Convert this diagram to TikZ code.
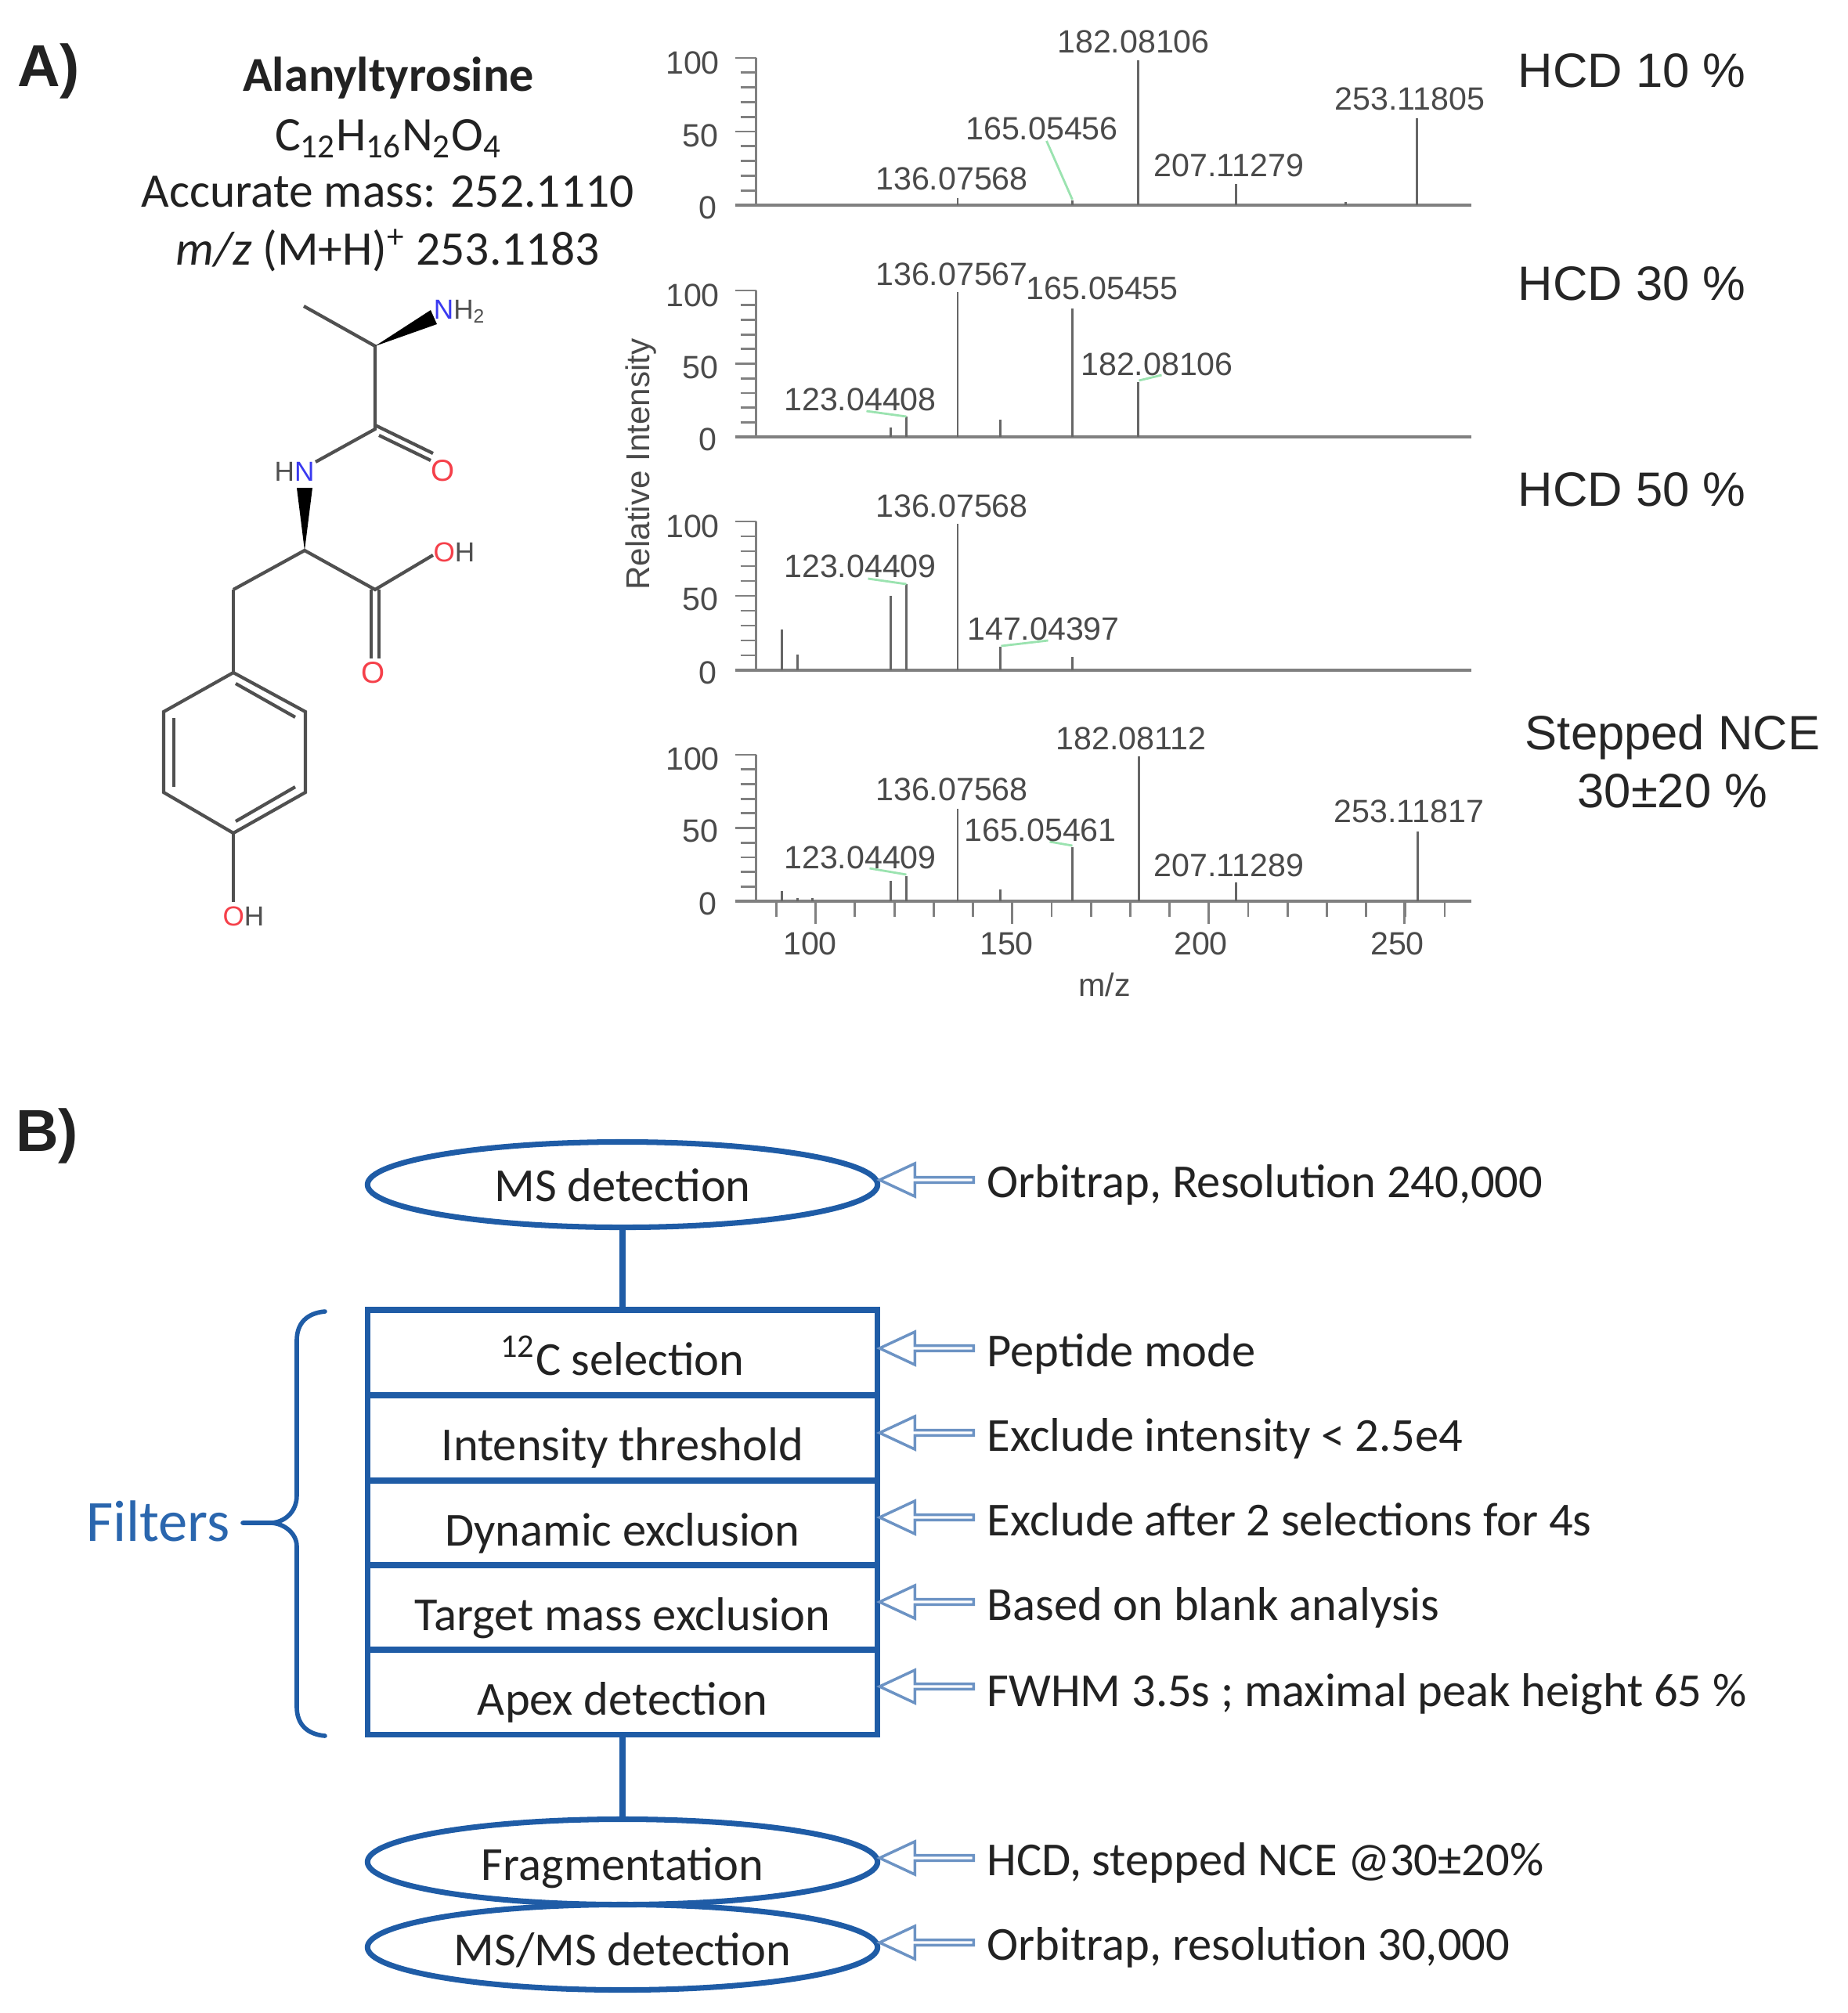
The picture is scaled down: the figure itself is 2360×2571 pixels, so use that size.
\documentclass[tikz,border=0pt]{standalone}
\usepackage{fontspec}
\setmainfont{Carlito}
\newfontfamily\arialf{Liberation Sans}
\usetikzlibrary{shapes.geometric,shapes.arrows}
\definecolor{bluel}{HTML}{1F5CA6}
\definecolor{bluea}{HTML}{6C93C4}
\definecolor{filt}{HTML}{2A66AE}
\definecolor{specg}{HTML}{4A4A4A}
\definecolor{peakg}{HTML}{666666}
\definecolor{axg}{HTML}{808080}
\definecolor{greenl}{HTML}{9BE3B0}
\definecolor{bond}{HTML}{505050}
\definecolor{atomN}{HTML}{3A3AF0}
\definecolor{atomO}{HTML}{F5404A}
\definecolor{txt}{HTML}{222222}
\tikzset{
  speclab/.style={font=\arialf\fontsize{11.7}{13}\selectfont, text=specg, inner sep=0pt, text height=8pt, text depth=0pt},
  peak/.style={draw=peakg, line width=0.65pt},
  baseax/.style={draw=axg, line width=1.0pt},
  tickl/.style={draw=axg, line width=0.8pt},
  gline/.style={draw=greenl, line width=0.8pt},
  hcdlab/.style={font=\arialf\fontsize{17.5}{21}\selectfont, text=black!85, inner sep=0pt},
  headlab/.style={font=\fontsize{17.5}{21}\selectfont, text=txt, inner sep=0pt},
  panel/.style={font=\arialf\bfseries\fontsize{21.5}{26}\selectfont, text=txt, inner sep=0pt},
  bondl/.style={draw=bond, line width=1.2pt},
  atom/.style={font=\arialf\fontsize{10}{11}\selectfont, text=bond, inner sep=0pt},
  rowbox/.style={draw=bluel, line width=2pt, rectangle, minimum width=6.50cm, minimum height=1.08cm, inner sep=0pt, font=\fontsize{17.2}{20}\selectfont, text=txt},
  oval/.style={draw=bluel, line width=2pt, ellipse, minimum width=6.51cm, minimum height=1.09cm, inner sep=0pt, font=\fontsize{17.2}{20}\selectfont, text=txt},
  linkl/.style={draw=bluel, line width=2pt},
  sidelab/.style={anchor=west, inner sep=0pt, font=\fontsize{17.2}{20}\selectfont, text=txt, text height=12pt, text depth=3pt},
  inarrow/.style={single arrow, shape border rotate=180, draw=bluea, line width=1pt, fill=white,
     minimum width=0.42cm, minimum height=1.20cm, single arrow head extend=0.09cm, single arrow tip angle=50,
     single arrow head indent=0pt, inner sep=0pt, text width=0pt},
}
\newcommand{\rowt}[1]{\raisebox{-.29cm}[0pt][0pt]{#1}}
\newcommand{\ovalt}[1]{\raisebox{-.23cm}[0pt][0pt]{#1}}
% y axis of a spectrum: top, base
\newcommand{\specaxis}[2]{%
  \draw[tickl] (967,#1) -- (967,#2);
  \foreach \k in {0,...,10}{
    \pgfmathsetmacro{\yy}{#2+(#1-#2)*\k/10}
    \ifnum\numexpr\k-\k/5*5\relax=0
      \draw[tickl] (940,\yy) -- (967,\yy);
    \else
      \draw[tickl] (947,\yy) -- (967,\yy);
    \fi
  }
  \draw[baseax] (940,#2) -- (1880,#2);
}
\begin{document}
\begin{tikzpicture}[x=0.01cm,y=-0.01cm]
\useasboundingbox (0,0) rectangle (2360,2571);
\fill[white] (0,0) rectangle (2360,2571);

% Panel labels
\node[panel] (pA) at (62,91) {A)};
\node[panel] (pB) at (60,1451) {B)};

% Header
\node[headlab,font=\bfseries\fontsize{17.7}{21}\selectfont] (name) at (496,100) {Alanyltyrosine};
\node[headlab] (formula) at (496,177) {C\textsubscript{12}H\textsubscript{16}N\textsubscript{2}O\textsubscript{4}};
\node[headlab] (accm) at (495,245) {Accurate mass: 252.1110};
\node[headlab] (mz) at (495,320) {\textit{m/z} (M+H)\textsuperscript{+} 253.1183};

% Molecule
\coordinate (me) at (388,391);
\coordinate (ca) at (479,442);
\coordinate (co) at (479,548);
\coordinate (nt) at (403,590);
\coordinate (cb) at (389,703);
\coordinate (cc) at (479,753);
\coordinate (ch) at (298,753);
\coordinate (r1) at (298,859);
\coordinate (r2) at (390,909);
\coordinate (r3) at (390,1012);
\coordinate (r4) at (298,1064);
\coordinate (r5) at (209,1012);
\coordinate (r6) at (209,909);
\node[atom] (nh2) at (587,398) {\textcolor{atomN}{N}H\textsubscript{2}};
\node[atom] (hn) at (376,602) {H\textcolor{atomN}{N}};
\node[atom,text=atomO,font=\arialf\fontsize{11}{12}\selectfont] (o1) at (566,601) {O};
\node[atom] (oh1) at (580,705) {\textcolor{atomO}{O}H};
\node[atom,text=atomO,font=\arialf\fontsize{11}{12}\selectfont] (o2) at (477,859) {O};
\node[atom] (oh2) at (311,1170) {\textcolor{atomO}{O}H};
\draw[bondl] (me) -- (ca) -- (co) -- (nt);
\draw[bondl] (479,543) -- (553,579);
\draw[bondl] (484,556) -- (550,588);
\fill[black] (ca) -- (550,396) -- (558,414) -- cycle;
\fill[black] (cb) -- (379,623) -- (399,623) -- cycle;
\draw[bondl] (ch) -- (cb) -- (cc) -- (553,709);
\draw[bondl] (474,753) -- (474,841);
\draw[bondl] (484,753) -- (484,841);
\draw[bondl] (ch) -- (r1);
\draw[bondl] (r1) -- (r2) -- (r3) -- (r4) -- (r5) -- (r6) -- cycle;
\draw[bondl] (r4) -- (298,1152);
\draw[bondl] (301,873) -- (377,916);
\draw[bondl] (222,917) -- (222,1005);
\draw[bondl] (301,1049) -- (377,1005);

\begin{scope}[xshift=-0.015cm]
% Spectrum 1
\specaxis{74}{262}
\foreach \xx/\yt in {1224.5/253,1371/256,1455/77,1580/235,1720/258,1811/151}
  \draw[peak] (\xx,262) -- (\xx,\yt);
\draw[gline] (1338,180) -- (1371,255);
\node[speclab] (l11) at (1449,53) {182.08106};
\node[speclab] (l12) at (1332,164) {165.05456};
\node[speclab] (l13) at (1217,228) {136.07568};
\node[speclab] (l14) at (1571,211) {207.11279};
\node[speclab] (l15) at (1802,126) {253.11805};
\node[speclab] (y11) at (886,80) {100};
\node[speclab] (y12) at (896,173) {50};
\node[speclab] (y13) at (905,265) {0};

% Spectrum 2
\specaxis{371}{558}
\foreach \xx/\yt in {1139/546,1159/532,1224.5/373,1279/536,1371/394,1455/488}
  \draw[peak] (\xx,558) -- (\xx,\yt);
\draw[gline] (1108,525) -- (1159,532);
\draw[gline] (1456,486) -- (1485,479);
\node[speclab] (l21) at (1217,350) {136.07567};
\node[speclab] (l22) at (1409,368) {165.05455};
\node[speclab] (l23) at (1479,465) {182.08106};
\node[speclab] (l24) at (1100,510) {123.04408};
\node[speclab] (y21) at (886,377) {100};
\node[speclab] (y22) at (896,469) {50};
\node[speclab] (y23) at (905,561) {0};

% Spectrum 3
\specaxis{666}{856}
\foreach \xx/\yt in {1000/804,1020/836,1139/761,1159/746,1224.5/669,1279/826,1371/839}
  \draw[peak] (\xx,856) -- (\xx,\yt);
\draw[gline] (1110,739) -- (1159,746);
\draw[gline] (1280,825) -- (1340,818);
\node[speclab] (l31) at (1217,646) {136.07568};
\node[speclab] (l32) at (1100,723) {123.04409};
\node[speclab] (l33) at (1334,803) {147.04397};
\node[speclab] (y31) at (886,672) {100};
\node[speclab] (y32) at (896,765) {50};
\node[speclab] (y33) at (905,859) {0};

% Spectrum 4
\specaxis{964}{1151}
\foreach \xx/\yt in {1000/1138,1020/1147,1039/1147,1139/1125,1159/1119,1224.5/1033,1279/1136,1371/1082,1456/966,1580/1127,1812/1061.5}
  \draw[peak] (\xx,1151) -- (\xx,\yt);
\draw[gline] (1112,1109) -- (1159,1117);
\draw[gline] (1342,1075) -- (1371,1080);
\node[speclab] (l41) at (1446,943) {182.08112};
\node[speclab] (l42) at (1217,1008) {136.07568};
\node[speclab] (l43) at (1330,1060) {165.05461};
\node[speclab] (l44) at (1801,1036) {253.11817};
\node[speclab] (l45) at (1100,1095) {123.04409};
\node[speclab] (l46) at (1571,1105) {207.11289};
\node[speclab] (y41) at (886,969) {100};
\node[speclab] (y42) at (896,1061) {50};
\node[speclab] (y43) at (905,1154) {0};
% x ticks
\foreach \k in {1,...,18}{
  \pgfmathsetmacro{\xt}{993+50.2*(\k-1)}
  \draw[tickl] (\xt,1151) -- (\xt,1171);
}
\foreach \xt in {1043,1294,1545,1795}
  \draw[tickl] (\xt,1151) -- (\xt,1180);
\node[speclab] (x1) at (1036,1205) {100};
\node[speclab] (x2) at (1287,1205) {150};
\node[speclab] (x3) at (1535,1205) {200};
\node[speclab] (x4) at (1786,1205) {250};
\node[speclab] (xl) at (1412,1258) {m/z};
\node[speclab,rotate=90,font=\arialf\fontsize{12}{13}\selectfont] (yl) at (817,593) {Relative Intensity};
\end{scope}

% HCD labels
\node[hcdlab,anchor=west] (h1) at (1938,90) {HCD 10 \%};
\node[hcdlab,anchor=west] (h2) at (1938,362) {HCD 30 \%};
\node[hcdlab,anchor=west] (h3) at (1938,625) {HCD 50 \%};
\node[hcdlab] (h4) at (2136,942) {Stepped NCE};
\node[hcdlab] (h5) at (2136,1010) {30±20 \%};

% Part B flow
\node[oval] (ms) at (795,1513) {\raisebox{-.21cm}[0pt][0pt]{MS detection}};
\node[rowbox] (b1) at (795,1727) {\rowt{\textsuperscript{12}C selection}};
\node[rowbox] (b2) at (795,1836) {\rowt{Intensity threshold}};
\node[rowbox] (b3) at (795,1945) {\rowt{Dynamic exclusion}};
\node[rowbox] (b4) at (795,2053) {\rowt{Target mass exclusion}};
\node[rowbox] (b5) at (795,2161) {\rowt{Apex detection}};
\node[oval] (fr) at (795,2378) {\ovalt{Fragmentation}};
\node[oval] (mm) at (795,2487) {\ovalt{MS/MS detection}};
\draw[linkl] (ms) -- (b1);
\draw[linkl] (b5) -- (fr);

% Input arrows and notes
\foreach \nm/\yy in {a1/1507,a2/1722,a3/1830,a4/1938,a5/2046,a6/2154,a7/2373,a8/2481}
  \node[inarrow] (\nm) at (1187,\yy) {};
\node[sidelab] (s1) at (1260,1514) {Orbitrap, Resolution 240,000};
\node[sidelab] (s2) at (1260,1730) {Peptide mode};
\node[sidelab] (s3) at (1260,1838) {Exclude intensity < 2.5e4};
\node[sidelab] (s4) at (1260,1946) {Exclude after 2 selections for 4s};
\node[sidelab] (s5) at (1260,2054) {Based on blank analysis};
\node[sidelab] (s6) at (1260,2164) {FWHM 3.5s ; maximal peak height 65 \%};
\node[sidelab] (s7) at (1260,2380) {HCD, stepped NCE @30±20\%};
\node[sidelab] (s8) at (1260,2488) {Orbitrap, resolution 30,000};

% Filters brace
\node[inner sep=0pt,font=\fontsize{21.2}{25}\selectfont,text=filt] (filters) at (202,1943) {Filters};
\draw[draw=bluel,line width=1.6pt,line cap=round] (415,1675) .. controls (392,1677) and (379,1690) .. (379,1712)
  -- (379,1910) .. controls (379,1932) and (362,1945) .. (345,1945) -- (310,1945);
\draw[draw=bluel,line width=1.6pt,line cap=round] (345,1945) .. controls (362,1945) and (379,1958) .. (379,1975)
  -- (379,2180) .. controls (379,2202) and (392,2215) .. (415,2217);
\end{tikzpicture}
\end{document}
